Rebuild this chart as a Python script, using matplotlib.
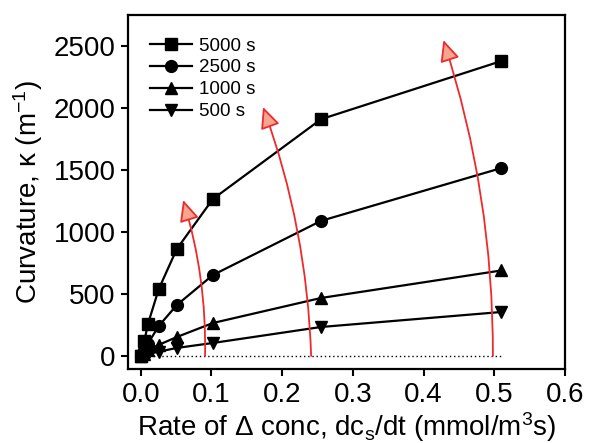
import matplotlib.pyplot as plt
from matplotlib.patches import FancyArrowPatch

plt.rcParams['font.family'] = ['Liberation Sans', 'DejaVu Sans']
plt.rcParams['mathtext.fontset'] = 'custom'
plt.rcParams['mathtext.rm'] = 'Liberation Sans'
plt.rcParams['mathtext.it'] = 'Liberation Sans'

# Datos
tasa = [0, 0.0051, 0.0102, 0.0255, 0.051, 0.102, 0.255, 0.51]
k_5000 = [0, 120, 258, 540, 863, 1266, 1910, 2379]
k_2500 = [0, 50, 100, 242, 411, 653, 1090, 1516]
k_1000 = [0, 20, 45, 90, 153, 266, 468, 690]
k_500 = [0, 8, 15, 35, 65, 105, 234, 355]
etiquetas = ["5000 s", "2500 s", "1000 s", "500 s"]
marcadores = ["s", "o", "^", "v"]

# Flechas rojas: (x base, x punta, y punta)
flechas = [(0.091, 0.060, 1258), (0.241, 0.173, 2008), (0.498, 0.428, 2548)]

fig = plt.figure(figsize=(5.89, 4.43), dpi=100)
ax = fig.add_axes([0.2173, 0.167, 0.742, 0.799])

for serie, etiqueta, m in zip([k_5000, k_2500, k_1000, k_500], etiquetas, marcadores):
    ax.plot(tasa, serie, color="black", marker=m, markersize=8.5, linewidth=1.6, label=etiqueta)

ax.plot([0, 0.51], [0, 0], color="black", linestyle=(0, (1, 2)), linewidth=1, zorder=1)

for xb, xp, yp in flechas:
    flecha = FancyArrowPatch((xb, 0), (xp, yp), connectionstyle="arc3,rad=0.08",
                             arrowstyle="-|>,head_length=13,head_width=6",
                             edgecolor="#ee2a2a", facecolor="#f6a58f", linewidth=1.3,
                             mutation_scale=1, shrinkA=0, shrinkB=0, zorder=3)
    ax.add_patch(flecha)

ax.set_xlim(-0.018, 0.6)
ax.set_ylim(-105, 2750)
ax.set_xticks([0.0, 0.1, 0.2, 0.3, 0.4, 0.5, 0.6])
ax.set_yticks([0, 500, 1000, 1500, 2000, 2500])
ax.set_xticklabels(["0.0", "0.1", "0.2", "0.3", "0.4", "0.5", "0.6"])

for lado in ax.spines.values():
    lado.set_linewidth(1.6)
ax.tick_params(axis="both", direction="out", length=5, width=1.5, labelsize=20,
               top=False, right=False, pad=4)

ax.set_xlabel("Rate of Δ conc, dc$_s$/dt (mmol/m$^3$s)", fontsize=20, labelpad=2)
ax.set_ylabel("Curvature, κ (m$^{-1}$)", fontsize=20, labelpad=6)

ax.legend(loc="upper left", frameon=False, fontsize=13.5, handlelength=2.2,
          borderaxespad=0.8, labelspacing=0.25, handletextpad=0.4)

fig.savefig("out.png", dpi=100)
